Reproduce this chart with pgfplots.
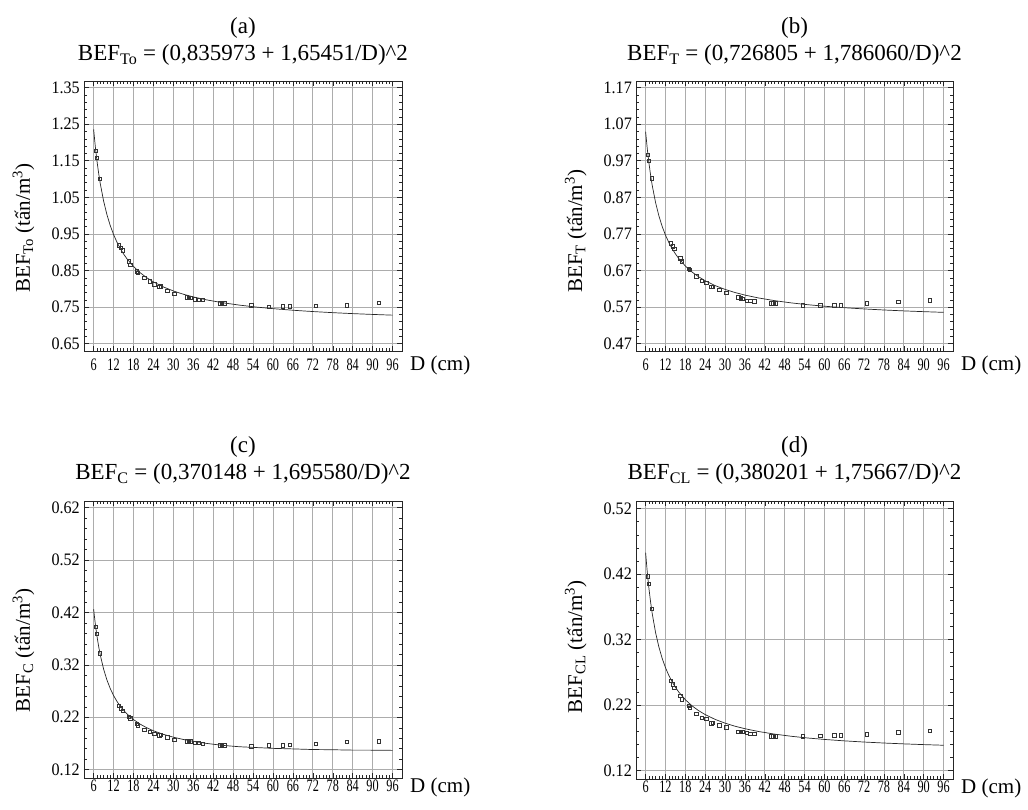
\documentclass[border=0pt]{standalone}
\usepackage{fontspec}
\setmainfont{Liberation Serif}
\newfontfamily\narrowfont[FakeStretch=0.7]{Liberation Serif}
\newfontfamily\ytickfont[FakeStretch=0.92]{Liberation Serif}
\usepackage{pgfplots}
\pgfplotsset{compat=1.18}
\pgfplotsset{
 panel/.style={
  scale only axis, anchor=south west,
  xmin=3.1, xmax=98.85,
  xtick={6,12,18,24,30,36,42,48,54,60,66,72,78,84,90,96},
  xticklabels={6,12,18,24,30,36,42,48,54,60,66,72,78,84,90,96},
  minor x tick num=5, minor y tick num=4,
  grid=major, major grid style={gray!65, line width=0.7pt},
  tick align=inside,
  axis line style={black!85, line width=0.7pt},
  tick style={black!85, line width=0.5pt},
  major tick length=5pt, minor tick length=3pt,
  xticklabel style={font=\narrowfont\fontsize{17.5}{18}\selectfont, inner sep=0pt, anchor=north},
  yticklabel style={font=\ytickfont\fontsize{17.5}{18}\selectfont, inner sep=0pt, anchor=east, xshift=-4pt},
  ylabel style={font=\fontsize{21}{24}\selectfont, anchor=west, inner sep=0pt},
  xlabel={D (cm)},
  xlabel style={font=\fontsize{21}{24}\selectfont, at={(rel axis cs:1,0)}, anchor=west, inner sep=0pt, xshift=8pt},
  title style={font=\fontsize{23}{27}\selectfont, align=center, at={(rel axis cs:0.5,1)}, anchor=south, inner sep=0pt},
 },
 toprow/.style={xticklabel style={yshift=-8pt}, xlabel style={yshift=-14pt}, title style={yshift=9pt},
   ylabel style={at={(rel axis cs:-0.19,0.215)}}},
 botrow/.style={xticklabel style={yshift=-2pt}, xlabel style={yshift=-9pt}, title style={yshift=10pt},
   ylabel style={at={(rel axis cs:-0.19,0.236)}}},
 fitline/.style={black!85, line width=0.7pt, mark=none},
 obs/.style={only marks, mark=square, mark size=1.7pt, mark options={black!80, line width=0.5pt}},
}
\begin{document}
\begin{tikzpicture}[x=1pt,y=1pt]
\useasboundingbox (0,0) rectangle (1028,810);
% ---------------- (a)
\begin{axis}[panel, toprow,
  at={(84pt,459pt)}, width=318pt, height=270pt,
  ymin=0.630, ymax=1.368,
  ytick={0.65,0.75,0.85,0.95,1.05,1.15,1.25,1.35},
  yticklabels={0.65,0.75,0.85,0.95,1.05,1.15,1.25,1.35},
  ylabel={BEF\textsubscript{To} (tấn/m\textsuperscript{3})},
  title={(a)\\BEF\textsubscript{To} = (0,835973 + 1,65451/D)\textasciicircum{}2}]
\addplot[fitline] coordinates {
(6,1.235932)(6.5,1.189219)(7,1.149896)(7.5,1.116348)(8,1.087405)(9,1.040006)(10,1.002850)
(11,0.972951)(12,0.948382)(13,0.927837)(14,0.910406)(15,0.895434)(16,0.882435)(18,0.860980)
(20,0.844008)(22,0.830245)(24,0.818864)(27,0.805059)(30,0.794100)(33,0.785191)(36,0.777804)
(40,0.769718)(45,0.761675)(50,0.755270)(55,0.750051)(60,0.745715)(66,0.741392)(72,0.737799)
(78,0.734766)(84,0.732171)(90,0.729924)(96,0.727964)};
\addplot[obs] coordinates {
(6.7,1.177)(6.9,1.159)(7.8,1.100)(13.6,0.919)(14.2,0.912)(14.7,0.905)(16.5,0.875)(17.0,0.866)
(19.0,0.848)(19.3,0.844)(21.3,0.830)(22.9,0.821)(24.3,0.812)(25.8,0.805)(26.2,0.807)(28.2,0.794)
(30.3,0.787)(34.0,0.777)(34.7,0.776)(35.3,0.775)(36.5,0.771)(37.6,0.770)(38.8,0.770)(44.0,0.760)
(44.6,0.760)(45.3,0.760)(53.5,0.755)(58.8,0.751)(63.0,0.752)(65.0,0.752)(72.8,0.754)(82.3,0.755)
(91.8,0.762)};
\end{axis}
% ---------------- (b)
\begin{axis}[panel, toprow,
  at={(636pt,459pt)}, width=317pt, height=270pt,
  ymin=0.450, ymax=1.188,
  ytick={0.47,0.57,0.67,0.77,0.87,0.97,1.07,1.17},
  yticklabels={0.47,0.57,0.67,0.77,0.87,0.97,1.07,1.17},
  ylabel={BEF\textsubscript{T} (tấn/m\textsuperscript{3})},
  title={(b)\\BEF\textsubscript{T} = (0,726805 + 1,786060/D)\textasciicircum{}2}]
\addplot[fitline] coordinates {
(6,1.049563)(6.5,1.003169)(7,0.964238)(7.5,0.931121)(8,0.902620)(9,0.856099)(10,0.819769)
(11,0.790630)(12,0.766751)(13,0.746831)(14,0.729967)(15,0.715506)(16,0.702971)(18,0.682327)
(20,0.666032)(22,0.652848)(24,0.641960)(27,0.628778)(30,0.618331)(33,0.609849)(36,0.602825)
(40,0.595146)(45,0.587515)(50,0.581446)(55,0.576505)(60,0.572403)(66,0.568314)(72,0.564919)
(78,0.562055)(84,0.559606)(90,0.557486)(96,0.555636)};
\addplot[obs] coordinates {
(6.7,0.987)(6.9,0.970)(7.8,0.922)(13.6,0.745)(14.2,0.736)(14.7,0.729)(16.5,0.704)(17.0,0.695)
(19.0,0.674)(19.3,0.672)(21.3,0.654)(22.9,0.642)(24.3,0.636)(25.8,0.625)(26.2,0.626)(28.2,0.618)
(30.3,0.610)(34.0,0.597)(34.7,0.594)(35.3,0.593)(36.5,0.588)(37.6,0.588)(38.8,0.586)(44.0,0.581)
(44.6,0.581)(45.3,0.581)(53.5,0.575)(58.8,0.575)(63.0,0.575)(65.0,0.575)(72.8,0.580)(82.3,0.584)
(91.8,0.589)};
\end{axis}
% ---------------- (c)
\begin{axis}[panel, botrow,
  at={(84pt,32pt)}, width=318pt, height=277pt,
  ymin=0.1042, ymax=0.6326,
  ytick={0.12,0.22,0.32,0.42,0.52,0.62},
  yticklabels={0.12,0.22,0.32,0.42,0.52,0.62},
  ylabel={BEF\textsubscript{C} (tấn/m\textsuperscript{3})},
  title={(c)\\BEF\textsubscript{C} = (0,370148 + 1,695580/D)\textasciicircum{}2}]
\addplot[fitline] coordinates {
(6,0.426076)(6.5,0.398169)(7,0.375002)(7.5,0.355485)(8,0.338836)(9,0.311974)(10,0.291282)
(11,0.274882)(12,0.261577)(13,0.250577)(14,0.241338)(15,0.233470)(16,0.226692)(18,0.215619)
(20,0.206958)(22,0.200006)(24,0.194302)(27,0.187443)(30,0.182045)(33,0.177686)(36,0.174095)
(40,0.170187)(45,0.166324)(50,0.163765)(55,0.162283)(60,0.160729)(66,0.159688)(72,0.158498)
(78,0.158075)(84,0.157360)(90,0.157311)(96,0.156897)};
\addplot[obs] coordinates {
(6.7,0.393)(6.9,0.379)(7.8,0.342)(13.6,0.2416)(14.2,0.237)(14.7,0.233)(16.5,0.2215)(17.0,0.218)
(19.0,0.208)(19.3,0.205)(21.3,0.196)(22.9,0.192)(24.3,0.189)(25.8,0.186)(26.2,0.187)(28.2,0.182)
(30.3,0.177)(34.0,0.174)(34.7,0.174)(35.3,0.174)(36.5,0.172)(37.6,0.171)(38.8,0.170)(44.0,0.167)
(44.6,0.167)(45.3,0.167)(53.5,0.165)(58.8,0.167)(63.0,0.167)(65.0,0.168)(72.8,0.170)(82.3,0.173)
(91.8,0.174)};
\end{axis}
% ---------------- (d)
\begin{axis}[panel, botrow,
  at={(636pt,31pt)}, width=317pt, height=278pt,
  ymin=0.1073, ymax=0.5316,
  ytick={0.12,0.22,0.32,0.42,0.52},
  yticklabels={0.12,0.22,0.32,0.42,0.52},
  ylabel={BEF\textsubscript{CL} (tấn/m\textsuperscript{3})},
  title={(d)\\BEF\textsubscript{CL} = (0,380201 + 1,75667/D)\textasciicircum{}2}]
\addplot[fitline] coordinates {
(6,0.452901)(6.5,0.423095)(7,0.398355)(7.5,0.377517)(8,0.359742)(9,0.331070)(10,0.308989)
(11,0.291490)(12,0.277297)(13,0.265564)(14,0.255709)(15,0.247319)(16,0.240093)(18,0.228287)
(20,0.219057)(22,0.211646)(24,0.205568)(27,0.198259)(30,0.192508)(33,0.187864)(36,0.184038)
(40,0.179876)(45,0.175760)(50,0.172502)(55,0.169860)(60,0.167673)(66,0.165500)(72,0.163700)
(78,0.162185)(84,0.160892)(90,0.159776)(96,0.158802)};
\addplot[obs] coordinates {
(6.7,0.417)(6.9,0.405)(7.8,0.367)(13.6,0.257)(14.2,0.252)(14.7,0.247)(16.5,0.234)(17.0,0.229)
(19.0,0.219)(19.3,0.216)(21.3,0.207)(22.9,0.201)(24.3,0.1996)(25.8,0.1926)(26.2,0.193)(28.2,0.1896)
(30.3,0.186)(34.0,0.1794)(34.7,0.1794)(35.3,0.179)(36.5,0.178)(37.6,0.1768)(38.8,0.1768)(44.0,0.1728)
(44.6,0.1728)(45.3,0.1728)(53.5,0.1725)(58.8,0.1733)(63.0,0.1738)(65.0,0.174)(72.8,0.1754)(82.3,0.1784)
(91.8,0.181)};
\end{axis}
\end{tikzpicture}
\end{document}
